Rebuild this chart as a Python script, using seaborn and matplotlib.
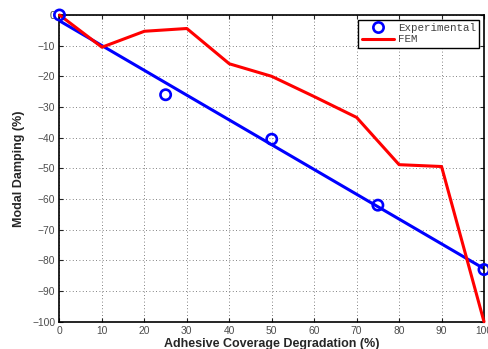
import matplotlib
matplotlib.use('Agg')
import matplotlib.pyplot as plt
from matplotlib.lines import Line2D
import seaborn as sns

# Values
exp_x = [0, 25, 50, 75, 100]
exp_y = [0, -26, -40.5, -62, -83]

fem_x = [0, 10, 20, 30, 40, 50, 60, 70, 80, 90, 100]
fem_y = [0, -10.5, -5.3, -4.4, -15.9, -20, -26.6, -33.4, -48.8, -49.4, -100]

x_ticks = list(range(0, 101, 10))
y_ticks = list(range(-100, 1, 10))

sns.set_style('ticks')
plt.rcParams['font.family'] = ['Liberation Sans', 'DejaVu Sans']

fig = plt.figure(figsize=(4.88, 3.49), dpi=100)
ax = fig.add_axes([0.1219, 0.0782, 0.8699, 0.8788])

# Experimental points with a least-squares linear fit (blue)
sns.regplot(
    x=exp_x, y=exp_y, ci=None, ax=ax,
    marker='o',
    scatter_kws={'s': 55, 'facecolors': 'none', 'edgecolors': '#0000ff',
                 'linewidths': 1.9, 'alpha': 1, 'clip_on': False, 'zorder': 4},
    line_kws={'color': '#0000ff', 'linewidth': 2.2, 'zorder': 2},
)

# FEM curve (red)
sns.lineplot(x=fem_x, y=fem_y, ax=ax, color='#ff0000', linewidth=2.2,
             zorder=3, clip_on=False)

ax.set_xlim(0, 100)
ax.set_ylim(-100, 0)
ax.set_xticks(x_ticks)
ax.set_yticks(y_ticks)

ax.grid(True, color='0.35', linestyle=(0, (1, 3)), linewidth=0.6)
ax.tick_params(direction='in', length=3, width=0.8, top=True, right=True,
               labelsize=7.4, labelcolor='0.3', pad=3)
for sp in ax.spines.values():
    sp.set_linewidth(1.2)
    sp.set_color('k')

ax.set_xlabel('Adhesive Coverage Degradation (%)', fontsize=9,
              fontweight='bold', labelpad=1.5)
ax.set_ylabel('Modal Damping (%)', fontsize=9, fontweight='bold', labelpad=5)

handles = [
    Line2D([], [], marker='o', linestyle='none', markerfacecolor='none',
           markeredgecolor='#0000ff', markeredgewidth=1.9, markersize=7.4),
    Line2D([], [], color='#ff0000', linewidth=2.2),
]
leg = ax.legend(handles, ['Experimental', 'FEM'], loc='upper right',
                prop={'family': ['Liberation Mono', 'DejaVu Sans Mono'], 'size': 7.8},
                frameon=True, fancybox=False, framealpha=1, edgecolor='k',
                handlelength=3.0, handletextpad=0.35, labelspacing=0.12,
                borderpad=0.3, borderaxespad=0.45)
leg.get_frame().set_linewidth(1.0)
for t in leg.get_texts():
    t.set_color('0.25')

fig.savefig('out.png', dpi=100)
